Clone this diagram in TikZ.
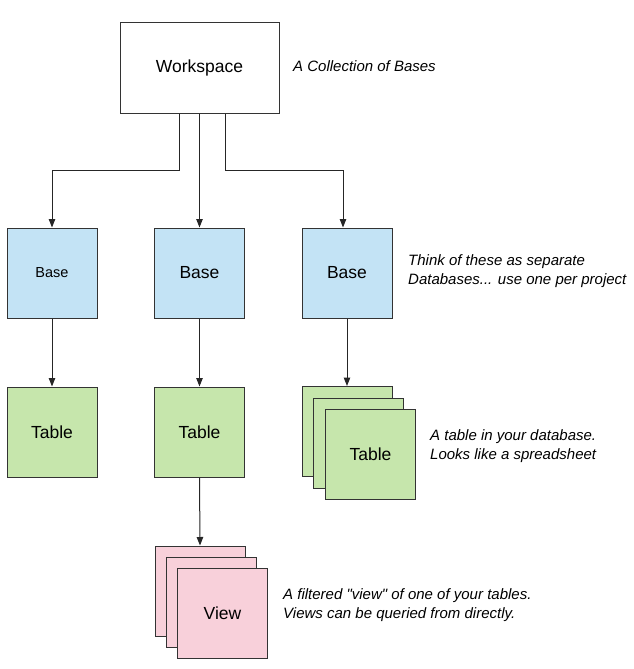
\documentclass[tikz,border=0pt]{standalone}
\usepackage{fontspec}
\setmainfont{Liberation Sans}
\usepackage{tikz}
\usepackage{xcolor}
\usetikzlibrary{arrows.meta}
\definecolor{baseblue}{HTML}{C3E3F5}
\definecolor{tablegreen}{HTML}{C6E6AC}
\definecolor{viewpink}{HTML}{F8D0DA}

\begin{document}
\begin{tikzpicture}[x=1pt, y=-1pt,
    box/.style={rectangle, draw=black!80, line width=1pt, minimum width=90pt, minimum height=90pt, inner sep=0pt, font=\fontsize{17.5}{19}\selectfont},
    note/.style={anchor=west, align=left, inner sep=0pt, font=\itshape\fontsize{15}{19}\selectfont},
    link/.style={draw=black!85, line width=1pt, -{Triangle[length=8.5pt, width=6.5pt]}}]
        \useasboundingbox (0,0) rectangle (633,669);

        % Workspace
        \node[box, minimum width=159pt] (ws) at (199.5,68) {Workspace};
        \node[note] (wsnote) at (293,66) {A Collection of Bases};

        % Bases
        \foreach \i/\x/\fs in {1/52/14.5, 2/199.5/17.5, 3/347/17.5} {
          \node[box, fill=baseblue, font=\fontsize{\fs}{19}\selectfont] (base\i) at (\x,273) {Base};
        }
        \node[note] (basenote) at (408,271.5) {Think of these as separate\\Databases... use one per project};

        % Tables (the last one is a stack)
        \foreach \i/\x in {1/52, 2/199.5} {
          \node[box, fill=tablegreen] (table\i) at (\x,432) {Table};
        }
        \foreach \n/\x/\y/\txt in {c/347/431.5/, b/358.5/443/, /370.5/454.5/Table} {
          \node[box, fill=tablegreen] (table3\n) at (\x,\y) {\txt};
        }
        \node[note] (tablenote) at (430,446.5) {A table in your database.\\Looks like a spreadsheet};

        % Views (stack)
        \foreach \n/\x/\y/\txt in {c/200/591/, b/211.5/602.5/, /222.5/613/View} {
          \node[box, fill=viewpink] (view\n) at (\x,\y) {\txt};
        }
        \node[note] (viewnote) at (283,605.5) {A filtered \textquotedbl view\textquotedbl{} of one of your tables.\\Views can be queried from directly.};

        % Connectors
        \draw[link] ([xshift=-20.5pt]ws.south) -- ++(0,57) -| (base1.north);
        \draw[link] (ws.south) -- (base2.north);
        \draw[link] ([xshift=25.5pt]ws.south) -- ++(0,57) -| ([xshift=-4pt]base3.north);
        \foreach \i in {1,2} {
          \draw[link] (base\i.south) -- (table\i.north);
        }
        \draw[link] (base3.south) -- (table3c.north);
        \draw[link] (table2.south) -- (viewc.north);
    \end{tikzpicture}
\end{document}
